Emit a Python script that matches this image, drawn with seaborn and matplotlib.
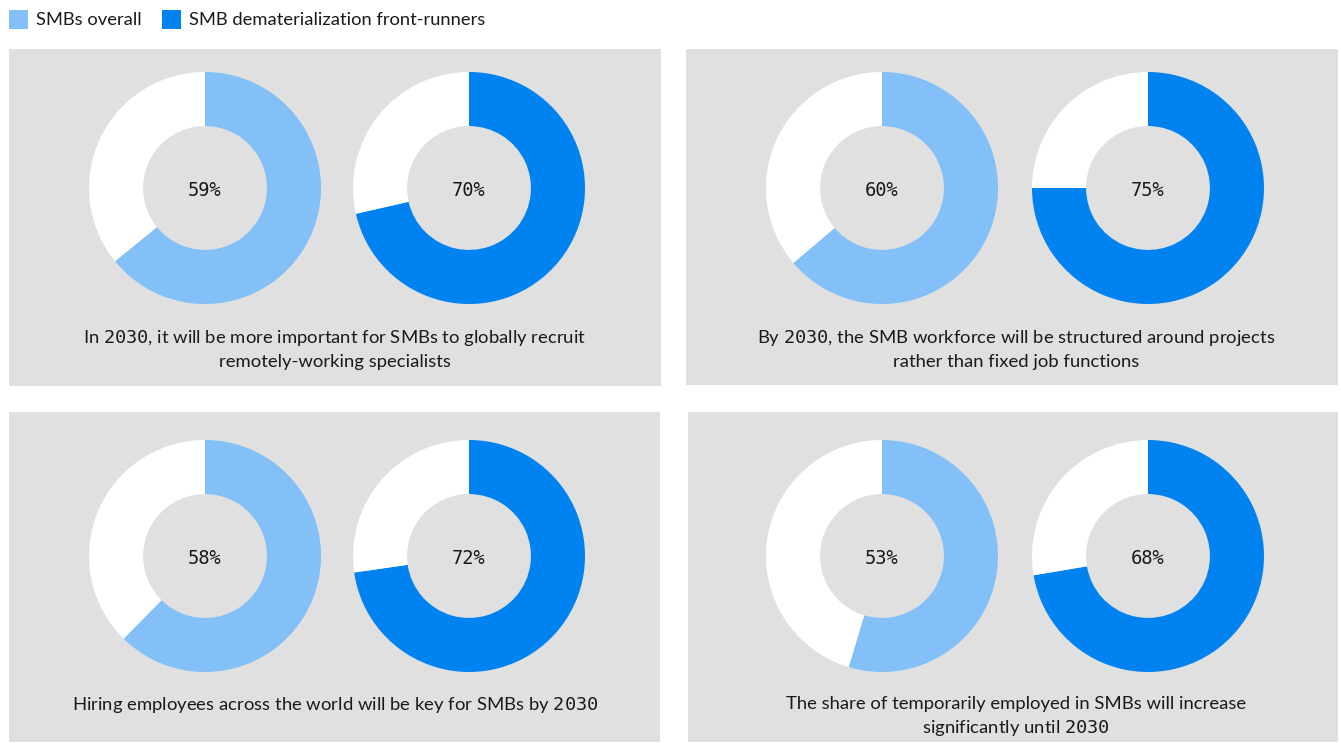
import matplotlib
matplotlib.use("Agg")
import matplotlib.pyplot as plt
from matplotlib.patches import Rectangle
import seaborn as sns

# data
statements = [
    "In $\\mathtt{2030}$, it will be more important for SMBs to globally recruit\nremotely-working specialists",
    "By $\\mathtt{2030}$, the SMB workforce will be structured around projects\nrather than fixed job functions",
    "Hiring employees across the world will be key for SMBs by $\\mathtt{2030}$",
    "The share of temporarily employed in SMBs will increase\nsignificantly until $\\mathtt{2030}$",
]
overall_agree = [59, 60, 58, 53]
overall_rest = [33, 34, 35, 44]
frontrunner_agree = [70, 75, 72, 68]
frontrunner_rest = [28, 25, 27, 26]
series_names = ["SMBs overall", "SMB dematerialization front-runners"]

colors = sns.color_palette(["#82C0F7", "#0082F0"])
panel_gray = "#E0E0E0"

sns.set_theme(style="white")
plt.rcParams["font.family"] = ["Lato", "DejaVu Sans"]
plt.rcParams["mathtext.fontset"] = "custom"
plt.rcParams["mathtext.tt"] = "DejaVu Sans Mono"
plt.rcParams["mathtext.rm"] = "Lato"

W, H = 1341, 743
fig = plt.figure(figsize=(W / 100, H / 100), dpi=100)
fig.patch.set_facecolor("white")


def fx(x):
    return x / W


def fy(y):
    return 1 - y / H


# gray panels (left, top, right, bottom) in pixels
panels = [(9, 49, 661, 386), (686, 49, 1338, 385), (9, 412, 660, 742), (688, 412, 1338, 742)]
for x0, y0, x1, y1 in panels:
    fig.patches.append(Rectangle((fx(x0), fy(y1)), fx(x1 - x0), (y1 - y0) / H,
                                 transform=fig.transFigure, facecolor=panel_gray,
                                 edgecolor="none", zorder=-5))

# legend
leg_items = [(9, series_names[0]), (162, series_names[1])]
for i, (lx, name) in enumerate(leg_items):
    fig.patches.append(Rectangle((fx(lx), fy(29)), fx(19), 19 / H, transform=fig.transFigure,
                                 facecolor=colors[i], edgecolor="none"))
    fig.text(fx(lx + 27), fy(20), name, fontsize=13.2, va="center", ha="left", color="#1a1a1a")

r = 116
centers_y = [188, 188, 556, 556]
left_x = [205, 882, 205, 882]
right_x = [469, 1148, 469, 1148]
caption_x = [335, 1016, 335, 1016]
caption_y = [349, 349, 705, 717]


def donut(cx, cy, agree, rest, color):
    ax = fig.add_axes([fx(cx - r), fy(cy + r), 2 * r / W, 2 * r / H])
    ax.set_zorder(2)
    ax.pie([agree, rest], colors=[color, "white"], startangle=90, counterclock=False,
           wedgeprops=dict(width=0.466, edgecolor="none"))
    ax.set_xlim(-1, 1)
    ax.set_ylim(-1, 1)
    ax.set_aspect("equal")
    ax.axis("off")
    ax.text(0, -0.025, f"{agree}%", ha="center", va="center", fontsize=13.5,
            family="DejaVu Sans Mono", color="#1a1a1a")


for i in range(4):
    donut(left_x[i], centers_y[i], overall_agree[i], overall_rest[i], colors[0])
    donut(right_x[i], centers_y[i], frontrunner_agree[i], frontrunner_rest[i], colors[1])
    fig.text(fx(caption_x[i]), fy(caption_y[i]), statements[i], ha="center", va="center",
             fontsize=13.3, linespacing=1.4, color="#1a1a1a")

fig.savefig("out.png", dpi=100, facecolor="white")
